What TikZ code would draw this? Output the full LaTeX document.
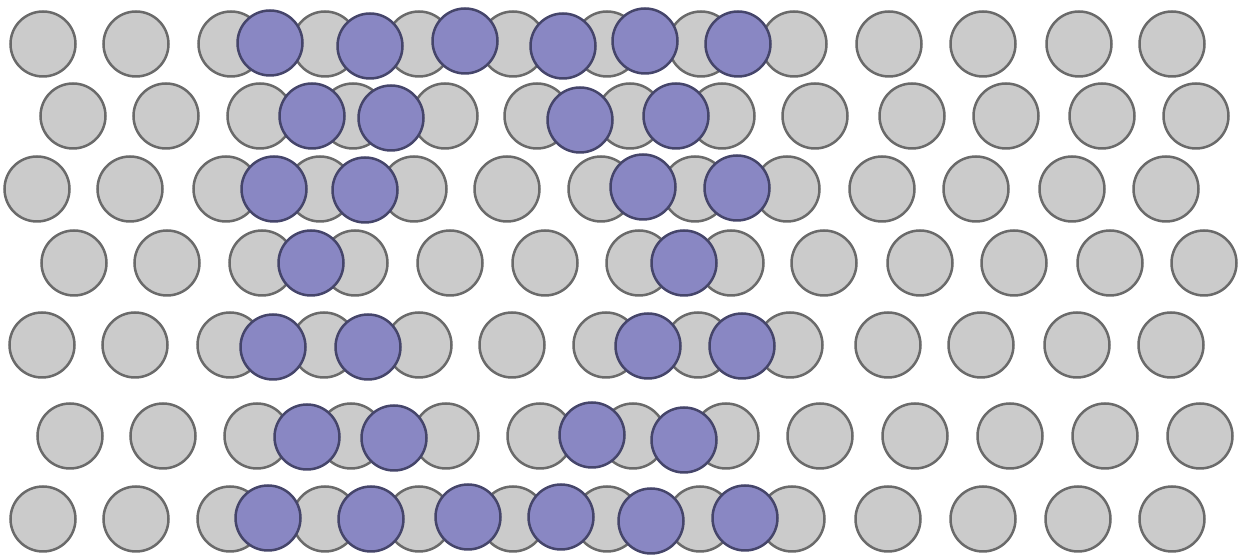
\documentclass[tikz,border=0pt]{standalone}
\definecolor{grayfill}{HTML}{CBCBCB}
\definecolor{graydraw}{HTML}{6A6A6A}
\definecolor{purplefill}{HTML}{8987C3}
\definecolor{purpledraw}{HTML}{45456A}
\tikzset{
  graydot/.style={fill=grayfill, draw=graydraw, line width=1.5pt},
  purpledot/.style={fill=purplefill, draw=purpledraw, line width=1.5pt}
}
\begin{document}
\begin{tikzpicture}[x=0.6pt, y=-0.6pt]
\useasboundingbox (0,0) rectangle (1250,557);
\def\rad{32.5}
% gray grid
\foreach \x in {43,136,231,325,419,513,607,701,794,889,983,1079,1172} \path[graydot] (\x,44) circle (\rad);
\foreach \x in {73,166,260,353,445,537,630,722,815,912,1006,1102,1196} \path[graydot] (\x,116) circle (\rad);
\foreach \x in {37,130,226,320,414,507,601,695,787,882,976,1072,1166} \path[graydot] (\x,189) circle (\rad);
\foreach \x in {74,167,262,355,450,545,639,731,824,920,1014,1110,1204} \path[graydot] (\x,263) circle (\rad);
\foreach \x in {42,135,230,324,419,512,606,698,790,888,981,1077,1171} \path[graydot] (\x,345) circle (\rad);
\foreach \x in {70,163,257,351,446,540,633,726,820,915,1010,1105,1200} \path[graydot] (\x,436) circle (\rad);
\foreach \x in {43,136,230,325,419,513,607,700,792,888,983,1078,1172} \path[graydot] (\x,519) circle (\rad);
% purple overlay
\foreach \x/\y in {270/43,370/46,465/41,563/46,645/41,738/44,
                   312/116,391/118,580/120,676/116,
                   274/189,365/190,643/187,737/188,
                   311/263,684/263,
                   273/347,368/347,648/346,742/346,
                   307/437,394/438,592/435,684/440,
                   268/518,371/519,468/517,561/517,651/521,745/518}
  \path[purpledot] (\x,\y) circle (\rad);
\end{tikzpicture}
\end{document}
